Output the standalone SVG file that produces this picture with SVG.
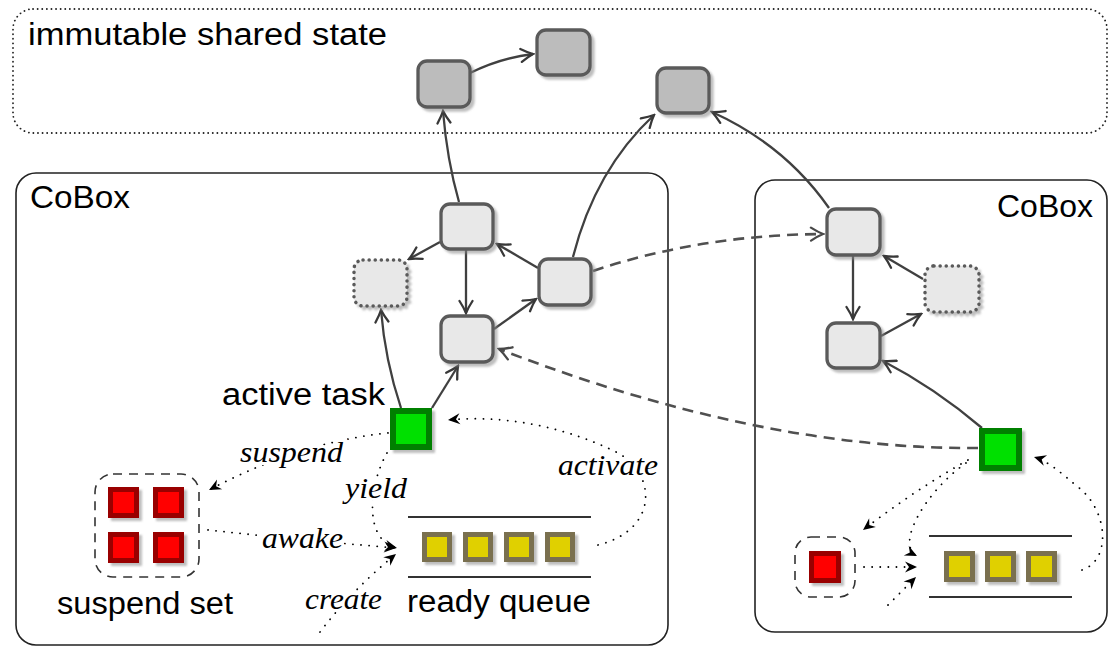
<svg xmlns="http://www.w3.org/2000/svg" width="1109" height="648" viewBox="0 0 1109 648">
<defs>
<filter id="sh" x="-20%" y="-20%" width="150%" height="150%">
<feDropShadow dx="3" dy="3" stdDeviation="1.2" flood-color="#888" flood-opacity="0.55"/>
</filter>
<marker id="open" viewBox="-14 -8 16 16" refX="0" refY="0" markerWidth="16" markerHeight="16" markerUnits="userSpaceOnUse" orient="auto">
<path d="M-12,-6.5 Q-5,-2 0,0 Q-5,2 -12,6.5" fill="none" stroke="#383838" stroke-width="2.3" stroke-linecap="round"/>
</marker>
<marker id="dash" viewBox="-14 -8 16 16" refX="0" refY="0" markerWidth="16" markerHeight="16" markerUnits="userSpaceOnUse" orient="auto">
<path d="M-12,-6.5 Q-5,-2 0,0 Q-5,2 -12,6.5" fill="none" stroke="#484848" stroke-width="2.3" stroke-linecap="round"/>
</marker>
<marker id="fill" viewBox="-13 -7 15 14" refX="0" refY="0" markerWidth="15" markerHeight="14" markerUnits="userSpaceOnUse" orient="auto">
<path d="M0,0 L-12,-5.5 L-8,0 L-12,5.5 Z" fill="#000"/>
</marker>
</defs>
<style>
.sans{font-family:"Liberation Sans","DejaVu Sans",sans-serif;fill:#000}
.lbl{font-family:"Liberation Serif","DejaVu Serif",serif;font-style:italic;fill:#000;paint-order:stroke;stroke:#fff;stroke-width:6}
.cont{fill:none;stroke:#222;stroke-width:1.6}
.imm{fill:none;stroke:#222;stroke-width:1.8;stroke-dasharray:0.1 4.5;stroke-linecap:round}
.node{fill:#e8e8e8;stroke:#5a5a5a;stroke-width:3.3;filter:url(#sh)}
.gnode{fill:#bcbcbc;stroke:#5a5a5a;stroke-width:3.3;filter:url(#sh)}
.dnode{fill:#e8e8e8;stroke:#5a5a5a;stroke-width:3.5;stroke-dasharray:0.1 6;stroke-linecap:round;filter:url(#sh)}
.green{fill:#00e000;stroke:#008000;stroke-width:6;filter:url(#sh)}
.red{fill:#ff0000;stroke:#990000;stroke-width:5;filter:url(#sh)}
.yel{fill:#e0d000;stroke:#7a7050;stroke-width:5;filter:url(#sh)}
.setbox{fill:none;stroke:#333;stroke-width:1.6;stroke-dasharray:9 7}
.qline{stroke:#333;stroke-width:2}
.e{fill:none;stroke:#404040;stroke-width:2.3;marker-end:url(#open)}
.ed{fill:none;stroke:#505050;stroke-width:2.6;stroke-dasharray:11 7;marker-end:url(#dash)}
.eo{fill:none;stroke:#000;stroke-width:1.8;stroke-dasharray:0.1 8;stroke-linecap:round;marker-end:url(#fill)}
</style>
<rect width="1109" height="648" fill="#fff"/>

<g id="immutable-region">
<rect class="imm" x="13" y="9" width="1094" height="124" rx="20"/>
<text class="sans" x="28" y="45" font-size="31" textLength="359" lengthAdjust="spacingAndGlyphs">immutable shared state</text>
</g>
<g id="cobox-left">
<rect class="cont" x="16" y="173" width="652" height="472" rx="20"/>
<text class="sans" x="30" y="208" font-size="31" textLength="100" lengthAdjust="spacingAndGlyphs">CoBox</text>
</g>
<g id="cobox-right">
<rect class="cont" x="755" y="180" width="352" height="452" rx="20"/>
<text class="sans" x="997" y="217" font-size="31" textLength="96" lengthAdjust="spacingAndGlyphs">CoBox</text>
</g>

<g id="connectors">
<path class="e" d="M470,73 Q500,58 533,54"/>
<path class="e" d="M459,202 Q447,160 443,111"/>
<path class="e" d="M440,242 L409,259"/>
<path class="e" d="M466,250 L466,313"/>
<path class="e" d="M538,268 L497,244"/>
<path class="e" d="M494,329 L536,299"/>
<path class="e" d="M573,257 Q595,170 654,115"/>
<path class="e" d="M829,208 Q785,145 712,112"/>
<path class="ed" d="M593,271 Q700,235 823,234"/>
<path class="e" d="M853,255 L853,319"/>
<path class="e" d="M923,279 L884,256"/>
<path class="e" d="M881,336 L921,314"/>
<path class="e" d="M401,408 Q385,360 381,310"/>
<path class="e" d="M432,408 L458,366"/>
<path class="e" d="M982,428 Q935,388 883,361"/>
<path class="ed" d="M978,448 Q760,450 499,349"/>

<path class="eo" d="M388,433 Q300,442 209,490"/>
<path class="eo" d="M387,453 C370,482 362,540 397,548"/>
<path class="eo" d="M208,530 Q300,540 396,548"/>
<path class="eo" d="M320,632 Q352,590 396,554"/>
<path class="eo" d="M598,545 C660,530 658,470 612,450 C570,430 510,414 448,420"/>

<path class="eo" d="M968,460 Q915,490 863,530"/>
<path class="eo" d="M966,463 C925,492 895,545 917,556"/>
<path class="eo" d="M864,567 L917,567"/>
<path class="eo" d="M888,605 L916,577"/>
<path class="eo" d="M1082,570 C1112,560 1108,510 1078,487 C1062,474 1050,462 1034,457"/>
</g>

<g id="node-g1"><rect class="gnode" x="418" y="61" width="52" height="46" rx="9"/></g>
<g id="node-g2"><rect class="gnode" x="537" y="30" width="53" height="45" rx="9"/></g>
<g id="node-g3"><rect class="gnode" x="657" y="68" width="52" height="45" rx="9"/></g>

<g id="node-l1"><rect class="node" x="441" y="204" width="52" height="45" rx="9"/></g>
<g id="node-l2"><rect class="dnode" x="354" y="260" width="53" height="46" rx="9"/></g>
<g id="node-l3"><rect class="node" x="539" y="259" width="52" height="46" rx="9"/></g>
<g id="node-l4"><rect class="node" x="441" y="316" width="52" height="46" rx="9"/></g>

<g id="node-r1"><rect class="node" x="827" y="209" width="53" height="46" rx="9"/></g>
<g id="node-r2"><rect class="dnode" x="925" y="266" width="54" height="46" rx="9"/></g>
<g id="node-r3"><rect class="node" x="827" y="323" width="53" height="45" rx="9"/></g>

<g id="active-task-left">
<rect class="green" x="393" y="411" width="36" height="36"/>
<text class="sans" x="222" y="405" font-size="31" textLength="163" lengthAdjust="spacingAndGlyphs">active task</text>
</g>
<g id="active-task-right">
<rect class="green" x="982" y="431" width="37" height="37"/>
</g>

<g id="suspend-set-left">
<rect class="setbox" x="95" y="474" width="104" height="103" rx="18"/>
<rect class="red" x="110.5" y="489.5" width="26" height="26"/>
<rect class="red" x="155.5" y="489.5" width="26" height="26"/>
<rect class="red" x="110.5" y="534.5" width="26" height="26"/>
<rect class="red" x="155.5" y="534.5" width="26" height="26"/>
<text class="sans" x="57" y="614" font-size="31" textLength="176" lengthAdjust="spacingAndGlyphs">suspend set</text>
</g>
<g id="ready-queue-left">
<line class="qline" x1="408" y1="517" x2="591" y2="517"/>
<line class="qline" x1="408" y1="577" x2="591" y2="577"/>
<rect class="yel" x="424.5" y="534.5" width="25" height="25"/>
<rect class="yel" x="465.5" y="534.5" width="25" height="25"/>
<rect class="yel" x="506.5" y="534.5" width="25" height="25"/>
<rect class="yel" x="547.5" y="534.5" width="25" height="25"/>
<text class="sans" x="407" y="612" font-size="31" textLength="184" lengthAdjust="spacingAndGlyphs">ready queue</text>
</g>
<g id="suspend-set-right">
<rect class="setbox" x="795" y="537" width="60" height="60" rx="16"/>
<rect class="red" x="811.5" y="553.5" width="27" height="27"/>
</g>
<g id="ready-queue-right">
<line class="qline" x1="929" y1="536" x2="1072" y2="536"/>
<line class="qline" x1="929" y1="597" x2="1072" y2="597"/>
<rect class="yel" x="946.5" y="553.5" width="26" height="26"/>
<rect class="yel" x="987.5" y="553.5" width="26" height="26"/>
<rect class="yel" x="1028.5" y="553.5" width="26" height="26"/>
</g>

<g id="labels">
<text class="lbl" x="240" y="462" font-size="29" textLength="103" lengthAdjust="spacingAndGlyphs">suspend</text>
<text class="lbl" x="345" y="498" font-size="29" textLength="62" lengthAdjust="spacingAndGlyphs">yield</text>
<text class="lbl" x="262" y="548" font-size="29" textLength="81" lengthAdjust="spacingAndGlyphs">awake</text>
<text class="lbl" x="305" y="609" font-size="29" textLength="77" lengthAdjust="spacingAndGlyphs">create</text>
<text class="lbl" x="558" y="475" font-size="29" textLength="100" lengthAdjust="spacingAndGlyphs">activate</text>
</g>
</svg>
